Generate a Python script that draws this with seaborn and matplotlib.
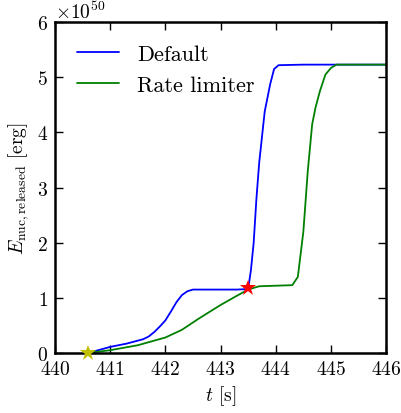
import numpy as np
import pandas as pd
import matplotlib
matplotlib.use('Agg')
import matplotlib.pyplot as plt
import seaborn as sns

# dados (energia em unidades de 1e50 erg)
t_default = [440.6, 441.0, 441.3, 441.6, 441.7, 441.8, 441.9, 442.0, 442.1, 442.2, 442.3, 442.4, 442.5,
             442.7, 443.0, 443.3, 443.5, 443.55, 443.6, 443.65, 443.7, 443.8, 443.9, 443.97, 444.05,
             444.5, 445.0, 446.0]
e_default = [0.0, 0.11, 0.17, 0.25, 0.3, 0.38, 0.48, 0.59, 0.75, 0.92, 1.05, 1.12, 1.15,
             1.15, 1.15, 1.15, 1.16, 1.5, 2.0, 2.8, 3.45, 4.38, 4.88, 5.15, 5.22,
             5.23, 5.23, 5.23]

t_limiter = [440.6, 441.0, 441.5, 442.0, 442.3, 442.6, 443.0, 443.3, 443.5, 443.7, 444.0, 444.3,
             444.4, 444.5, 444.58, 444.66, 444.72, 444.8, 444.9, 445.0, 445.1, 445.5, 446.0]
e_limiter = [0.0, 0.05, 0.14, 0.28, 0.42, 0.62, 0.87, 1.04, 1.15, 1.21, 1.22, 1.23,
             1.38, 2.2, 3.3, 4.15, 4.45, 4.75, 5.05, 5.17, 5.23, 5.23, 5.23]

estrelas_t = [440.6, 443.5]
estrelas_e = [0.0, 1.17]
estrelas_cor = ['y', 'r']

sns.set_style('ticks')
plt.rcParams['font.family'] = ['cmr10']
plt.rcParams['mathtext.fontset'] = 'cm'
plt.rcParams['axes.formatter.use_mathtext'] = True
plt.rcParams['axes.unicode_minus'] = False
for chave in ['axes.edgecolor', 'xtick.color', 'ytick.color', 'text.color', 'axes.labelcolor']:
    plt.rcParams[chave] = 'black'

fig = plt.figure(figsize=(4.01, 4.14), dpi=100)
ax = fig.add_axes([0.137, 0.145, 0.826, 0.799])

df1 = pd.DataFrame({'t': t_default, 'E': np.array(e_default) * 1e50})
df2 = pd.DataFrame({'t': t_limiter, 'E': np.array(e_limiter) * 1e50})
sns.lineplot(data=df1, x='t', y='E', ax=ax, color='b', lw=1.3, label='Default')
sns.lineplot(data=df2, x='t', y='E', ax=ax, color='g', lw=1.3, label='Rate limiter')

for tt, ee, cc in zip(estrelas_t, estrelas_e, estrelas_cor):
    ax.plot(tt, ee * 1e50, marker='*', color=cc, markersize=12, markeredgewidth=0, zorder=5, clip_on=False)

ax.set_xlim(440, 446)
ax.set_ylim(0, 6e50)
ax.set_xticks(np.arange(440, 447, 1))
ax.set_yticks(np.arange(0, 7, 1) * 1e50)
ax.ticklabel_format(axis='x', useOffset=False)
ax.tick_params(direction='in', top=True, right=True, length=6, width=1, labelsize=14, pad=5)
for s in ax.spines.values():
    s.set_linewidth(1.8)
ax.yaxis.get_offset_text().set_fontsize(14)

ax.set_xlabel(r'$t$ [s]', fontsize=14)
ax.set_ylabel(r'$E_\mathrm{nuc,released}$ [erg]', fontsize=14)
ax.legend(loc='upper left', frameon=False, fontsize=16, handlelength=1.9, borderaxespad=0.6)

fig.savefig('out.png', dpi=100)
